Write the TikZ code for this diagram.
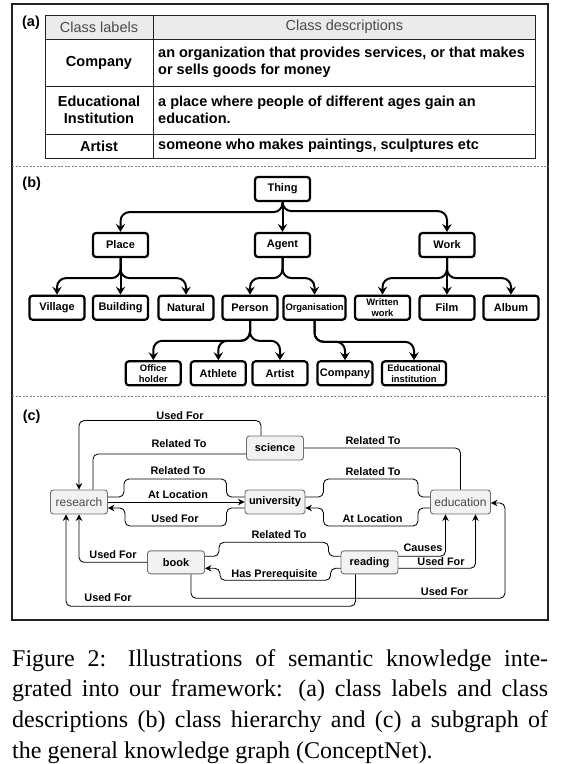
\documentclass[tikz,border=0pt]{standalone}
\usepackage{fontspec}
\setmainfont{Liberation Serif}
\setsansfont{Liberation Sans}
\usetikzlibrary{arrows.meta}
\definecolor{boxfill}{HTML}{F2F2F2}
\definecolor{boxline}{HTML}{6E6E6E}
\definecolor{hdrfill}{HTML}{EBEBEB}
\definecolor{framecol}{HTML}{222222}
\definecolor{softtext}{HTML}{4A4A4A}
\tikzset{
  tbox/.style={draw, line width=2.2pt, rounded corners=3pt, minimum width=55pt, minimum height=24pt,
    inner sep=1pt, align=center, font=\sffamily\bfseries\fontsize{11}{11.5}\selectfont},
  tsmall/.style={font=\sffamily\bfseries\fontsize{9.4}{10.8}\selectfont},
  tedge/.style={line width=2pt, rounded corners=9pt, -{Stealth[length=8pt,width=9.5pt,inset=3pt]}},
  cnode/.style={draw=boxline, fill=boxfill, line width=0.9pt, rounded corners=3pt, minimum width=57pt,
    minimum height=24pt, inner sep=1pt, font=\sffamily\bfseries\fontsize{11}{12}\selectfont},
  csoft/.style={text=softtext, font=\sffamily\fontsize{12}{13}\selectfont},
  cedge/.style={line width=0.85pt, rounded corners=5pt},
  carrow/.style={cedge, -{Stealth[length=6.5pt,width=6.5pt]}},
  clabel/.style={inner sep=0pt, font=\sffamily\bfseries\fontsize{10.9}{12}\selectfont},
  tag/.style={inner sep=0pt, font=\sffamily\bfseries\fontsize{14.5}{16}\selectfont},
  cell/.style={inner sep=0pt, align=center, font=\sffamily\bfseries\fontsize{14.5}{17.4}\selectfont},
  captionline/.style={anchor=base west, inner sep=0pt, font=\fontsize{24}{30}\selectfont},
}
\begin{document}
\begin{tikzpicture}[x=1pt,y=-1pt]
\useasboundingbox (0,0) rectangle (562,764);

% frame and separators
\draw[framecol, line width=1.3pt] (12,4) rectangle (548,620);
\draw[gray, line width=0.6pt, dash pattern=on 2pt off 1.5pt] (12,166) -- (548,166);
\draw[gray, line width=0.6pt, dash pattern=on 2pt off 1.5pt] (12,396) -- (548,396);

% (a) table
\node[tag] (taga) at (31,23) {(a)};
\fill[hdrfill] (45,15) rectangle (535.7,39);
\draw[framecol, line width=0.7pt] (45,15) rectangle (535.7,158);
\draw[framecol, line width=0.7pt] (45,39) -- (535.7,39);
\draw[framecol, line width=0.7pt] (45,86) -- (535.7,86);
\draw[framecol, line width=0.7pt] (45,134) -- (535.7,134);
\draw[framecol, line width=0.7pt] (153,15) -- (153,158);
\node[cell, font=\sffamily\fontsize{14.5}{17}\selectfont, text=softtext] (hlabels) at (99,27) {Class labels};
\node[cell, font=\sffamily\fontsize{14.5}{17}\selectfont, text=softtext] (hdescr) at (344.4,27) {Class descriptions};
\node[cell] (lcompany) at (99,62.5) {Company};
\node[cell] (leduc) at (99,110) {Educational\\Institution};
\node[cell] (lartist) at (99,146) {Artist};
\node[cell, anchor=west, align=left] (dcompany) at (158,62.5) {an organization that provides services, or that makes\\or sells goods for money};
\node[cell, anchor=west, align=left] (deduc) at (158,110) {a place where people of different ages gain an\\education.};
\node[cell, anchor=west, align=left] (dartist) at (158,146) {someone who makes paintings, sculptures etc};

% (b) class hierarchy
\node[tag] (tagb) at (31.7,184) {(b)};
\node[tbox] (thing) at (282.5,189) {Thing};
\node[tbox] (place) at (120.5,245) {Place};
\node[tbox] (agent) at (282.5,245) {Agent};
\node[tbox] (work) at (447,245) {Work};
\node[tbox] (village) at (57,307.7) {Village};
\node[tbox] (building) at (120.5,307.7) {Building};
\node[tbox] (natural) at (186,307.7) {Natural};
\node[tbox] (person) at (250,307.7) {Person};
\node[tbox, tsmall, minimum width=62pt] (organisation) at (314.5,307.7) {Organisation};
\node[tbox, tsmall] (written) at (382.5,307.7) {Written\\work};
\node[tbox] (film) at (447,307.7) {Film};
\node[tbox] (album) at (511,307.7) {Album};
\node[tbox, tsmall] (office) at (153.3,373.3) {Office\\holder};
\node[tbox] (athlete) at (218.3,373.3) {Athlete};
\node[tbox] (artist) at (280,373.3) {Artist};
\node[tbox] (company) at (345,373.3) {Company};
\node[tbox, tsmall, minimum width=64pt] (educinst) at (414,373.3) {Educational\\institution};

\draw[tedge] (thing) -- (agent);
\draw[tedge] (place) -- (building);
\draw[tedge] (work) -- (film);
\foreach \a/\b/\h in {thing/place/10, thing/work/9, place/village/20, place/natural/20,
    agent/person/20, agent/organisation/20, work/written/20, work/album/20,
    person/office/20, person/athlete/20, person/artist/20,
    organisation/company/21, organisation/educinst/21}
  \draw[tedge] (\a.south) -- ++(0,\h) -| (\b.north);

% (c) subgraph of ConceptNet
\node[tag] (tagc) at (31.7,416.7) {(c)};
\node[cnode, csoft] (research) at (79,502) {research};
\node[cnode] (science) at (275,448) {science};
\node[cnode, minimum width=60pt] (university) at (275,502) {university};
\node[cnode, csoft, minimum width=60pt] (education) at (460.5,502) {education};
\node[cnode, minimum height=23pt] (book) at (176,562.3) {book};
\node[cnode, minimum height=23pt] (reading) at (369.5,562.3) {reading};

\draw[carrow] ([xshift=-14pt]science.north) -- ++(0,-15) -| (research.north);
\draw[cedge] ([xshift=14pt]research.north) |- ([yshift=-6pt]science.west);
\draw[cedge] (science.east) -| (education.north);
\draw[cedge] ([yshift=5pt]research.east) -- ++(16,0) -- ++(0,-18) -| ([xshift=-18pt,yshift=5pt]university.west) -- ([yshift=5pt]university.west);
\draw[carrow] (research.east) -- (university.west);
\draw[carrow] ([yshift=-6pt]university.west) -- ++(-18,0) -- ++(0,18) -| ([xshift=17pt,yshift=-6pt]research.east) -- ([yshift=-6pt]research.east);
\draw[cedge] ([yshift=5pt]university.east) -- ++(18,0) -- ++(0,-18) -| ([xshift=-12pt,yshift=5pt]education.west) -- ([yshift=5pt]education.west);
\draw[carrow] ([yshift=-6pt]education.west) -- ++(-12,0) -- ++(0,18) -| ([xshift=18pt,yshift=-6pt]university.east) -- ([yshift=-6pt]university.east);
\draw[carrow] (book.west) -| (research.south);
\draw[cedge] ([yshift=6pt]book.east) -- ++(14,0) -- ++(0,-14) -| ([xshift=-12pt,yshift=6pt]reading.west) -- ([yshift=6pt]reading.west);
\draw[carrow] ([yshift=-6pt]reading.west) -- ++(-10,0) -- ++(0,12) -| ([xshift=15pt,yshift=-6pt]book.east) -- ([yshift=-6pt]book.east);
\draw[carrow] ([yshift=6pt]reading.east) -| ([xshift=-15pt]education.south);
\draw[carrow] ([yshift=-6pt]reading.east) -| ([xshift=15pt]education.south);
\draw[carrow] ([xshift=15pt]book.south) -- ++(0,24) -| ([xshift=14pt,yshift=-1pt]education.east) -- ([yshift=-1pt]education.east);
\draw[carrow] ([xshift=-14pt]reading.south) -- ++(0,32) -| ([xshift=-13pt]research.south);

\node[clabel] (lsciuse) at (180,416) {Used For};
\node[clabel] (lsciresrel) at (179,444) {Related To};
\node[clabel] (lscieducrel) at (373,441) {Related To};
\node[clabel] (lresunirel) at (178,471) {Related To};
\node[clabel] (lresuniloc) at (178,494.5) {At Location};
\node[clabel] (luniresuse) at (175,518.7) {Used For};
\node[clabel] (lunieducrel) at (373,472) {Related To};
\node[clabel] (leducuniloc) at (372.5,518.7) {At Location};
\node[clabel] (lbookresuse) at (113,555) {Used For};
\node[clabel] (lbookreadrel) at (279,534.5) {Related To};
\node[clabel] (lreadbookpre) at (274.5,574.7) {Has Prerequisite};
\node[clabel] (lreadeduccause) at (423,548) {Causes};
\node[clabel] (lreadeducuse) at (441,562) {Used For};
\node[clabel] (lbookeducuse) at (444.5,591.5) {Used For};
\node[clabel] (lreadresuse) at (108,598) {Used For};

% caption
\node[captionline] (cap1) at (12,666) {\makebox[536pt][s]{Figure 2: Illustrations of semantic knowledge inte-}};
\node[captionline] (cap2) at (12,696.7) {\makebox[536pt][s]{grated into our framework: (a) class labels and class}};
\node[captionline] (cap3) at (12,727.4) {\makebox[536pt][s]{descriptions (b) class hierarchy and (c) a subgraph of}};
\node[captionline] (cap4) at (12,758) {the general knowledge graph (ConceptNet).};
\end{tikzpicture}
\end{document}
